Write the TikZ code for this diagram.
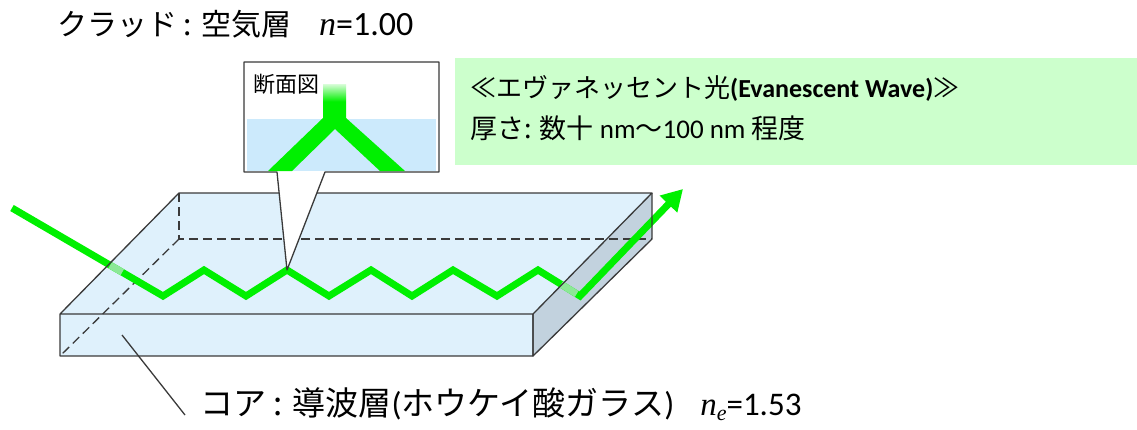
\documentclass[tikz,border=0pt]{standalone}
\usepackage{fontspec}
\setmainfont{Carlito}
\newfontfamily\jp{Noto Sans CJK JP}
\newfontfamily\tnr{Liberation Serif}
\usetikzlibrary{arrows.meta,calc}

\definecolor{slab}{RGB}{223,241,252}
\definecolor{slabside}{RGB}{194,210,222}
\definecolor{cutblue}{RGB}{204,234,252}
\definecolor{ray}{RGB}{0,240,0}
\definecolor{rayfade}{RGB}{140,232,150}
\definecolor{notebg}{RGB}{204,255,204}
\definecolor{edgegrey}{RGB}{58,58,58}

\begin{document}
\begin{tikzpicture}[x=1pt,y=-1pt,
	edgeline/.style={draw=edgegrey,line width=1.3pt,line join=round},
	hidden/.style={draw=edgegrey,line width=1.3pt,dash pattern=on 9pt off 5pt},
	raypath/.style={draw=ray,line width=7pt,line join=miter},
	txt/.style={inner sep=0pt,anchor=base west,font=\fontsize{30}{34}\selectfont}]
	\useasboundingbox (0,0) rectangle (1137,429);

	% slab corners: front and back
	\coordinate (ftl) at (60,314);
	\coordinate (ftr) at (533,314);
	\coordinate (fbl) at (60,356);
	\coordinate (fbr) at (533,356);
	\coordinate (btl) at (179,193);
	\coordinate (btr) at (652,193);
	\coordinate (bbl) at (179,239);
	\coordinate (bbr) at (652,239);

	\fill[slab] (ftl) -- (btl) -- (btr) -- (ftr) -- cycle;
	\fill[slab] (ftl) rectangle (fbr);
	\fill[slabside] (ftr) -- (btr) -- (bbr) -- (fbr) -- cycle;
	\draw[hidden] (btl) -- (bbl) -- (bbr);
	\draw[hidden] (bbl) -- (fbl);

	% zigzag ray
	\foreach \i/\x/\y in {0/12/208, 1/163/296, 2/204/270, 3/246/296, 4/287/270,
		5/329/296, 6/371/270, 7/412/296, 8/453/270, 9/497/296, 10/538/270,
		11/580/296, 12/683/189}
		\coordinate (r\i) at (\x,\y);
	\draw[raypath,-{Triangle[length=21pt,width=23pt]}] (r0) -- (r1) -- (r2) -- (r3)
		-- (r4) -- (r5) -- (r6) -- (r7) -- (r8) -- (r9) -- (r10) -- (r11) -- (r12);
	\draw[draw=rayfade,line width=7pt] ($(r0)!0.65!(r1)$) -- ($(r0)!0.73!(r1)$);
	\draw[draw=rayfade,line width=7pt] ($(r10)!0.55!(r11)$) -- ($(r10)!0.92!(r11)$);

	\draw[edgeline] (fbl) rectangle (ftr) -- (btr) -- (btl) -- (ftl);
	\draw[edgeline] (ftr) -- (fbr) -- (bbr) -- (btr);

	% cross-section callout
	\coordinate (cnw) at (244,62);
	\coordinate (cse) at (439,172);
	\coordinate (wl) at (277,172);
	\coordinate (wr) at (325,172);
	\filldraw[fill=white,edgeline] (cnw) -| (cse) -- (wr) -- (r4) -- (wl) -- (cnw |- cse) -- cycle;
	\fill[cutblue] (247,119) rectangle (436,171);
	\shade[top color=ray!15!white,bottom color=ray,middle color=ray] (323,84) rectangle (346,119);
	\fill[ray] (323,118) -- (268,171) -- (292,171) -- (335,129) -- (380,171)
		-- (405,171) -- (346,118) -- cycle;
	\node[txt,font=\fontsize{22}{24}\selectfont\jp] (sect) at (253,92) {断面図};

	% evanescent wave note
	\fill[notebg] (455,58) rectangle (1137,165);
	\node[txt,font=\fontsize{26}{28}\selectfont] (ew) at (470,97)
		{{\jp ≪エヴァネッセント光}\textbf{(Evanescent Wave)}{\jp ≫}};
	\node[txt,font=\fontsize{27}{28}\selectfont] (thick) at (470,138)
		{{\jp 厚さ: 数十} nm{\jp ～}100 nm {\jp 程度}};

	% layer labels
	\node[txt] (clad) at (57,35)
		{{\jp クラッド : 空気層}\hspace{28pt}{\fontsize{34}{36}\selectfont{\tnr\itshape n}=1.00}};
	\node[txt,inner xsep=15pt,font=\fontsize{33}{36}\selectfont] (core) at (185,415)
		{{\jp コア : 導波層}({\jp ホウケイ酸ガラス})\hspace{26pt}{\tnr\itshape n\raisebox{-5pt}{\fontsize{22}{22}\selectfont e}}=1.53};
	\coordinate (lead) at (122,335);
	\draw[draw=edgegrey,line width=1.3pt] (lead) -- (core.base west);
\end{tikzpicture}
\end{document}
